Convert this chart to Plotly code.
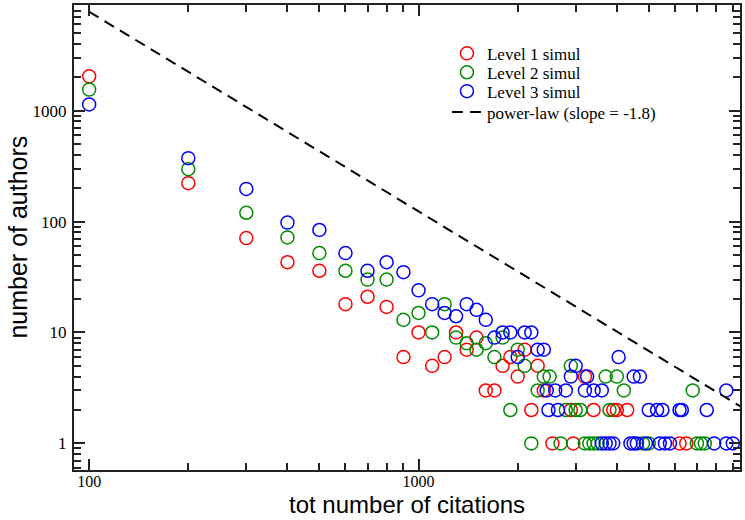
import plotly.graph_objects as go

# ---- data ----
level1_x = [100, 200, 300, 400, 500, 600, 700, 800, 900, 1000, 1100, 1200, 1300, 1400,
            1500, 1600, 1700, 1800, 1900, 2000, 2100, 2200, 2300, 2400, 2550, 2900, 2950,
            3200, 3400, 3900, 4000, 4300, 6200, 6500]
level1_y = [2040, 222, 71, 43, 36, 18, 21, 17, 6, 10, 5, 6, 10, 7,
            9, 3, 3, 5, 6, 4, 7, 2, 5, 3, 1, 2, 1,
            4, 2, 2, 2, 2, 1, 1]

level2_x = [100, 200, 300, 400, 500, 600, 700, 800, 900, 1000, 1100, 1200, 1300, 1400,
            1500, 1600, 1700, 1800, 1900, 2000, 2100, 2200, 2300, 2400, 2500, 2700, 2800,
            2900, 3000, 3100, 3200, 3300, 3400, 3500, 3700, 3800, 4000, 4200, 4800, 5000,
            6800, 7000, 7200, 7400]
level2_y = [1550, 297, 120, 72, 52, 36, 30, 30, 13, 15, 10, 18, 9, 8,
            7, 8, 6, 9, 2, 7, 5, 1, 3, 4, 4, 1, 2,
            5, 2, 2, 1, 1, 1, 1, 4, 2, 4, 3, 1, 1,
            3, 1, 1, 1]

level3_x = [100, 200, 300, 400, 500, 600, 700, 800, 900, 1000, 1100, 1200, 1300, 1400,
            1500, 1600, 1700, 1800, 1900, 2000, 2100, 2200, 2300, 2400, 2450, 2480, 2600,
            2650, 2800, 2900, 3000, 3250, 3200, 3400, 3600, 3600, 3700, 3800, 3900, 4050,
            4400, 4500, 4500, 4600, 4700, 4900, 5000, 5300, 5400, 5500, 5600, 5800, 6200,
            6300, 7500, 7900, 8600, 8600, 9000]
level3_y = [1140, 373, 197, 98, 84, 52, 36, 43, 35, 24, 18, 15, 14, 18,
            16, 13, 9, 10, 10, 6, 10, 10, 7, 7, 3, 2, 3,
            2, 3, 4, 5, 4, 3, 3, 3, 1, 1, 1, 1, 6,
            1, 1, 4, 1, 4, 1, 2, 2, 1, 2, 1, 1, 2,
            2, 2, 1, 3, 1, 1]

powerlaw_x = [100, 9500]
powerlaw_slope = -1.8
powerlaw_amp = 7800  # value at x = 100
powerlaw_y = [powerlaw_amp * (x / 100.0) ** powerlaw_slope for x in powerlaw_x]

series_names = ["Level 1 simul", "Level 2 simul", "Level 3 simul",
                "power-law (slope = -1.8)"]
x_title = "tot number of citations"
y_title = "number of authors"

# ---- styling ----
colors = ["#ff0000", "#008c00", "#0000ff"]
serif = "Liberation Serif, Times New Roman, serif"
sans = "Liberation Sans, Arial, sans-serif"
legend_ids = ["legend", "legend2", "legend3", "legend4"]
legend_rows_px = [52, 71, 90, 111]   # centre of each legend row (pixels from top)

fig = go.Figure()
for xs, ys, name, c, lg in zip([level1_x, level2_x, level3_x],
                               [level1_y, level2_y, level3_y],
                               series_names[:3], colors, legend_ids[:3]):
    fig.add_trace(go.Scatter(
        x=xs, y=ys, mode="markers", name=name, legend=lg,
        marker=dict(symbol="circle-open", size=13, color=c, line=dict(width=1.5, color=c)),
    ))

fig.add_trace(go.Scatter(
    x=powerlaw_x, y=powerlaw_y, mode="lines", name=series_names[3], legend=legend_ids[3],
    line=dict(color="black", width=2, dash="11px,7px"),
))

def decades(lo, hi):
    return [10 ** k for k in range(lo, hi + 1)]

def minors(lo, hi):
    return [m * 10 ** k for k in range(lo, hi + 1) for m in range(2, 10)]

axis_common = dict(
    type="log", showgrid=False, zeroline=False,
    showline=True, linecolor="#222", linewidth=2, mirror="ticks",
    ticks="inside", ticklen=11, tickwidth=1.5, tickcolor="#222",
    tickfont=dict(family=serif, size=17, color="black"),
)

fig.update_xaxes(
    **axis_common,
    range=[1.954, 3.976],
    tickmode="array", tickvals=decades(2, 3), ticktext=["100", "1000"],
    minor=dict(tickmode="array", tickvals=minors(1, 3), ticks="inside",
               ticklen=7, tickwidth=1.5, tickcolor="#222"),
    ticklabelstandoff=-4,
)
fig.update_xaxes(tickfont=dict(family=serif, size=16, color="black"))
fig.update_yaxes(
    **axis_common,
    range=[-0.24, 3.953],
    tickmode="array", tickvals=decades(0, 3), ticktext=["1", "10", "100", "1000"],
    minor=dict(tickmode="array", tickvals=minors(-1, 3), ticks="inside",
               ticklen=7, tickwidth=1.5, tickcolor="#222"),
    ticklabelstandoff=2,
)

plot_top, plot_h = 3, 467
legend_layout = {}
for lg, py in zip(legend_ids, legend_rows_px):
    legend_layout[lg] = dict(
        x=0.56, y=1 - (py - plot_top) / plot_h, xanchor="left", yanchor="middle",
        bgcolor="rgba(0,0,0,0)", borderwidth=0,
        font=dict(family=serif, size=17, color="black"), itemsizing="trace",
    )

fig.update_layout(
    width=745, height=520,
    margin=dict(l=74, r=4, t=3, b=50),
    paper_bgcolor="white", plot_bgcolor="white",
    showlegend=True,
    **legend_layout,
    annotations=[
        dict(text=x_title, xref="paper", yref="paper", x=0.5, y=1 - (519 - plot_top) / plot_h,
             xanchor="center", yanchor="bottom", showarrow=False, borderpad=0,
             font=dict(family=sans, size=24, color="black")),
        dict(text=y_title, xref="paper", yref="paper", x=(17 - 74) / 667, y=0.5,
             xanchor="center", yanchor="middle", showarrow=False, textangle=-90,
             font=dict(family=sans, size=25, color="black")),
    ],
)

fig.write_html(
    "out.html",
    config={"displayModeBar": False},
    post_script="document.body.style.margin='0';document.body.style.overflow='hidden';",
)
